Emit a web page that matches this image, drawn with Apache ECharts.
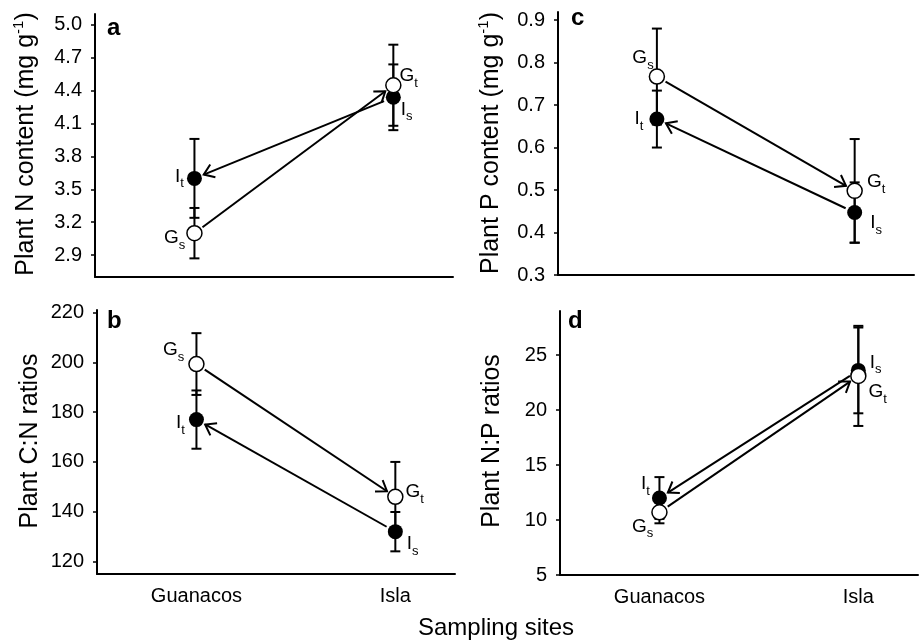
<!DOCTYPE html>
<html>
<head>
<meta charset="utf-8" />
<title>Plant nutrients</title>
<style>
  html,
  body {
    margin: 0;
    padding: 0;
    background: #fff;
  }
  #main {
    width: 920px;
    height: 641px;
  }
</style>
<script src="https://cdn.jsdelivr.net/npm/echarts@6/dist/echarts.min.js"></script>
</head>
<body>
<div id="main"></div>
<script>
  var sites = ["Guanacos", "Isla"];
  var siteX = [1, 2];

  // open circles = G (Gs at Guanacos, Gt at Isla), filled = I (It at Guanacos, Is at Isla)
  var nOpen = [3.1, 4.45], nOpenErr = [0.23, 0.37];
  var nFill = [3.6, 4.34], nFillErr = [0.36, 0.3];
  var cnOpen = [199.3, 146.0], cnOpenErr = [12.4, 14.0];
  var cnFill = [177.0, 132.0], cnFillErr = [11.7, 7.9];
  var pOpen = [0.767, 0.498], pOpenErr = [0.113, 0.122];
  var pFill = [0.667, 0.447], pFillErr = [0.067, 0.071];
  var npOpen = [10.7, 23.1], npOpenErr = [1.0, 4.55];
  var npFill = [12.0, 23.6], npFillErr = [1.9, 3.9];

  var nTicks = [2.9, 3.2, 3.5, 3.8, 4.1, 4.4, 4.7, 5.0];
  var cnTicks = [120, 140, 160, 180, 200, 220];
  var pTicks = [0.3, 0.4, 0.5, 0.6, 0.7, 0.8, 0.9];
  var npTicks = [5, 10, 15, 20, 25];

  var openNames = [["G", "s"], ["G", "t"]];
  var fillNames = [["I", "t"], ["I", "s"]];

  var FONT = "'Liberation Sans', Arial, sans-serif";

  // layout of the four panels; lab = [position, distance, dy] per point
  var panels = [
    {
      open: nOpen, openErr: nOpenErr, fill: nFill, fillErr: nFillErr,
      ticks: nTicks, min: 2.7, max: 5.1, dec: 1, xLabels: false,
      grid: { left: 95, top: 14, width: 358, height: 263 },
      labOpen: [["left", 1, 5], ["right", -2, -9]],
      labFill: [["left", 3, -2], ["right", 0, 12]],
    },
    {
      open: cnOpen, openErr: cnOpenErr, fill: cnFill, fillErr: cnFillErr,
      ticks: cnTicks, min: 115, max: 221, dec: 0, xLabels: true,
      grid: { left: 97, top: 310, width: 358, height: 264 },
      labOpen: [["left", 4, -14], ["right", 2, -5]],
      labFill: [["left", 4, 3], ["right", 4, 12]],
    },
    {
      open: pOpen, openErr: pOpenErr, fill: pFill, fillErr: pFillErr,
      ticks: pTicks, min: 0.3, max: 0.919, dec: 1, xLabels: false,
      grid: { left: 558, top: 12, width: 356, height: 263 },
      labOpen: [["left", -5, -19], ["right", 4, -9]],
      labFill: [["left", 6, 0], ["right", 8, 10]],
    },
    {
      open: npOpen, openErr: npOpenErr, fill: npFill, fillErr: npFillErr,
      ticks: npTicks, min: 5, max: 29, dec: 0, xLabels: true,
      grid: { left: 560, top: 311, width: 358, height: 264 },
      labOpen: [["left", -2, 14], ["right", 2, 16]],
      labFill: [["left", 2, -14], ["right", 4, -8]],
    },
  ];

  var subRich = {
    m: { fontSize: 19, lineHeight: 28, color: "#000", fontFamily: FONT },
    s: { fontSize: 13, lineHeight: 13, verticalAlign: "bottom", color: "#000", fontFamily: FONT },
  };

  function renderErr(params, api) {
    var x = api.value(0), y = api.value(1), e = api.value(2);
    var top = api.coord([x, y + e]);
    var bot = api.coord([x, y - e]);
    var w = 5;
    var st = { stroke: "#000", lineWidth: 2 };
    return {
      type: "group",
      children: [
        { type: "line", shape: { x1: top[0], y1: top[1], x2: bot[0], y2: bot[1] }, style: st },
        { type: "line", shape: { x1: top[0] - w, y1: top[1], x2: top[0] + w, y2: top[1] }, style: st },
        { type: "line", shape: { x1: bot[0] - w, y1: bot[1], x2: bot[0] + w, y2: bot[1] }, style: st },
      ],
    };
  }

  function renderArrow(params, api) {
    var p1 = api.coord([api.value(0), api.value(1)]);
    var p2 = api.coord([api.value(2), api.value(3)]);
    var dx = p2[0] - p1[0], dy = p2[1] - p1[1];
    var len = Math.sqrt(dx * dx + dy * dy);
    var ux = dx / len, uy = dy / len;
    var gap = 10, head = 12, a = (35 * Math.PI) / 180;
    var s = [p1[0] + ux * gap, p1[1] + uy * gap];
    var e = [p2[0] - ux * gap, p2[1] - uy * gap];
    function arm(ang) {
      var c = Math.cos(ang), sn = Math.sin(ang);
      var rx = ux * c - uy * sn, ry = ux * sn + uy * c;
      return [e[0] - rx * head, e[1] - ry * head];
    }
    var st = { stroke: "#000", lineWidth: 2, fill: null };
    return {
      type: "group",
      children: [
        { type: "line", shape: { x1: s[0], y1: s[1], x2: e[0], y2: e[1] }, style: st },
        { type: "polyline", shape: { points: [arm(a), e, arm(-a)] }, style: st },
      ],
    };
  }

  var grids = [], xAxes = [], yAxes = [], series = [];

  panels.forEach(function (p, i) {
    grids.push(Object.assign({ outerBoundsMode: "none", containLabel: false }, p.grid));

    xAxes.push({
      gridIndex: i,
      type: "value",
      min: 0.5,
      max: 2.3,
      splitLine: { show: false },
      axisLine: { show: true, onZero: false, lineStyle: { color: "#000", width: 2 } },
      axisTick: { show: false },
      axisLabel: {
        show: p.xLabels,
        customValues: siteX,
        margin: 12,
        color: "#000",
        fontSize: 20,
        fontFamily: FONT,
        formatter: function (v) {
          return sites[siteX.indexOf(v)];
        },
      },
    });

    yAxes.push({
      gridIndex: i,
      type: "value",
      min: p.min,
      max: p.max,
      splitLine: { show: false },
      axisLine: { show: true, onZero: false, lineStyle: { color: "#000", width: 2 } },
      axisTick: { show: true, length: 4, customValues: p.ticks, lineStyle: { color: "#000", width: 1.5 } },
      axisLabel: {
        customValues: p.ticks,
        margin: 13,
        color: "#000",
        fontSize: 20,
        fontFamily: FONT,
        formatter: function (v) {
          return v.toFixed(p.dec);
        },
      },
    });

    var errData = [];
    var fillPts = [], openPts = [];
    for (var j = 0; j < 2; j++) {
      errData.push([siteX[j], p.open[j], p.openErr[j]]);
      errData.push([siteX[j], p.fill[j], p.fillErr[j]]);
      fillPts.push({
        value: [siteX[j], p.fill[j]],
        label: {
          show: true,
          position: p.labFill[j][0],
          distance: p.labFill[j][1],
          offset: [0, p.labFill[j][2]],
          formatter: "{m|" + fillNames[j][0] + "}{s|" + fillNames[j][1] + "}",
          rich: subRich,
        },
      });
      openPts.push({
        value: [siteX[j], p.open[j]],
        label: {
          show: true,
          position: p.labOpen[j][0],
          distance: p.labOpen[j][1],
          offset: [0, p.labOpen[j][2]],
          formatter: "{m|" + openNames[j][0] + "}{s|" + openNames[j][1] + "}",
          rich: subRich,
        },
      });
    }

    series.push({
      type: "custom",
      xAxisIndex: i,
      yAxisIndex: i,
      renderItem: renderErr,
      data: errData,
      silent: true,
    });
    series.push({
      type: "custom",
      xAxisIndex: i,
      yAxisIndex: i,
      renderItem: renderArrow,
      silent: true,
      data: [
        [siteX[0], p.open[0], siteX[1], p.open[1]],
        [siteX[1], p.fill[1], siteX[0], p.fill[0]],
      ],
    });
    series.push({
      type: "scatter",
      xAxisIndex: i,
      yAxisIndex: i,
      symbol: "circle",
      symbolSize: 15,
      itemStyle: { color: "#000", opacity: 1 },
      data: fillPts,
    });
    series.push({
      type: "scatter",
      xAxisIndex: i,
      yAxisIndex: i,
      symbol: "circle",
      symbolSize: 15,
      itemStyle: { color: "#fff", borderColor: "#000", borderWidth: 1.5, opacity: 1 },
      data: openPts,
    });
  });

  var titleRich = {
    t: { fontSize: 25, lineHeight: 30, color: "#000", fontFamily: FONT },
    u: { fontSize: 15, lineHeight: 15, verticalAlign: "top", color: "#000", fontFamily: FONT },
  };

  function yTitle(x, y, txt) {
    return {
      type: "text",
      x: x,
      y: y,
      rotation: Math.PI / 2,
      style: { text: txt, rich: titleRich, align: "center", verticalAlign: "middle" },
    };
  }

  function letter(x, y, t) {
    return {
      type: "text",
      x: x,
      y: y,
      style: {
        text: t,
        fill: "#000",
        font: "bold 24px " + FONT,
        align: "left",
        verticalAlign: "middle",
      },
    };
  }

  var myChart = echarts.init(document.getElementById("main"));
  myChart.setOption({
    backgroundColor: "#fff",
    animation: false,
    grid: grids,
    xAxis: xAxes,
    yAxis: yAxes,
    series: series,
    graphic: [
      yTitle(26, 144, "{t|Plant N content (mg g}{u|-1}{t|)}"),
      yTitle(30, 441, "{t|Plant C:N ratios}"),
      yTitle(491, 143, "{t|Plant P content (mg g}{u|-1}{t|)}"),
      yTitle(492, 441, "{t|Plant N:P ratios}"),
      letter(107, 28, "a"),
      letter(107, 321, "b"),
      letter(571, 18, "c"),
      letter(568, 321, "d"),
      {
        type: "text",
        x: 496,
        y: 628,
        style: {
          text: "Sampling sites",
          fill: "#000",
          font: "24px " + FONT,
          align: "center",
          verticalAlign: "middle",
        },
      },
    ],
  });
</script>
</body>
</html>
